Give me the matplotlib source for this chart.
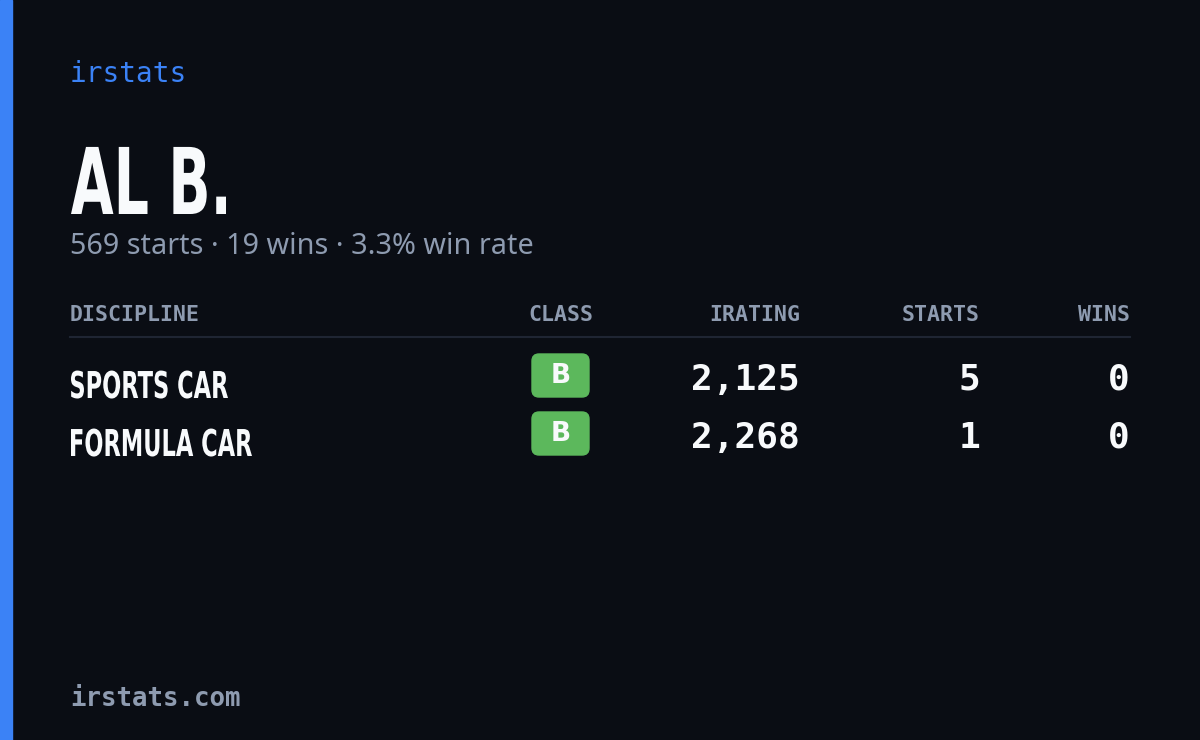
import matplotlib
matplotlib.use('Agg')
from matplotlib import pyplot as plt
from matplotlib.patches import FancyBboxPatch, Rectangle, PathPatch
from matplotlib.textpath import TextPath
from matplotlib.font_manager import FontProperties
from matplotlib.transforms import Affine2D

# card data
brand = "irstats"
name = "AL B."
summary = "569 starts · 19 wins · 3.3% win rate"
headers = ["DISCIPLINE", "CLASS", "IRATING", "STARTS", "WINS"]
disciplines = ["SPORTS CAR", "FORMULA CAR"]
classes = ["B", "B"]
iratings = [2125, 2268]
starts = [5, 1]
wins = [0, 0]
footer = "irstats.com"

BG = '#0a0d14'
GRAY = '#8e9bb0'
WHITE = '#f8fafc'
BLUE = '#3b82f6'
GREEN = '#5cb85c'
MONO = 'DejaVu Sans Mono'
SANS = ['Noto Sans', 'DejaVu Sans']
BOLD = FontProperties(family='DejaVu Sans', weight='bold')

fig = plt.figure(figsize=(12, 7.4), dpi=100, facecolor=BG)
ax = fig.add_axes([0, 0, 1, 1])
ax.set_xlim(0, 1200)
ax.set_ylim(740, 0)
ax.axis('off')


def condensed(x, baseline, s, size, width, color):
    # squeeze a bold text path horizontally to fake a condensed face
    tp = TextPath((0, 0), s, size=size, prop=BOLD)
    ext = tp.get_extents()
    sx = width / ext.width
    tr = Affine2D().translate(-ext.x0, 0).scale(sx, -1).translate(x, baseline)
    ax.add_patch(PathPatch(tr.transform_path(tp), color=color, lw=0))


ax.add_patch(Rectangle((0, 0), 12, 740, color=BLUE))

ax.text(70, 74, brand, color=BLUE, fontsize=20, family=MONO, va='center')
condensed(71, 214, name, 92, 155, WHITE)
ax.text(70, 246, summary, color=GRAY, fontsize=20.7, family=SANS, va='center')

# header row
col_x = [70, 593, 800, 980, 1130]
aligns = ['left', 'right', 'right', 'right', 'right']
for h, x, a in zip(headers, col_x, aligns):
    ax.text(x, 315, h, color=GRAY, fontsize=15.5, family=MONO, weight='bold',
            ha=a, va='center')
ax.plot([70, 1130], [337, 337], color='#1f2533', lw=1.5)

row_y = [380, 438]
row_w = [157, 181]
for i, y in enumerate(row_y):
    condensed(71, y + 18, disciplines[i], 37, row_w[i], WHITE)
    ax.add_patch(FancyBboxPatch((532, y - 26), 57, 43, boxstyle='round,pad=0,rounding_size=7',
                                color=GREEN))
    ax.text(560.5, y - 4, classes[i], color=WHITE, fontsize=19, family='DejaVu Sans',
            weight='bold', ha='center', va='center')
    ax.text(800, y, f"{iratings[i]:,}", color=WHITE, fontsize=26, family=MONO,
            weight='bold', ha='right', va='center')
    ax.text(980, y, str(starts[i]), color=WHITE, fontsize=26, family=MONO,
            weight='bold', ha='right', va='center')
    ax.text(1130, y, str(wins[i]), color=WHITE, fontsize=26, family=MONO,
            weight='bold', ha='right', va='center')

ax.text(70, 699, footer, color=GRAY, fontsize=18.5, family=MONO, weight='bold', va='center')

fig.savefig('out.png', dpi=100, facecolor=BG)
